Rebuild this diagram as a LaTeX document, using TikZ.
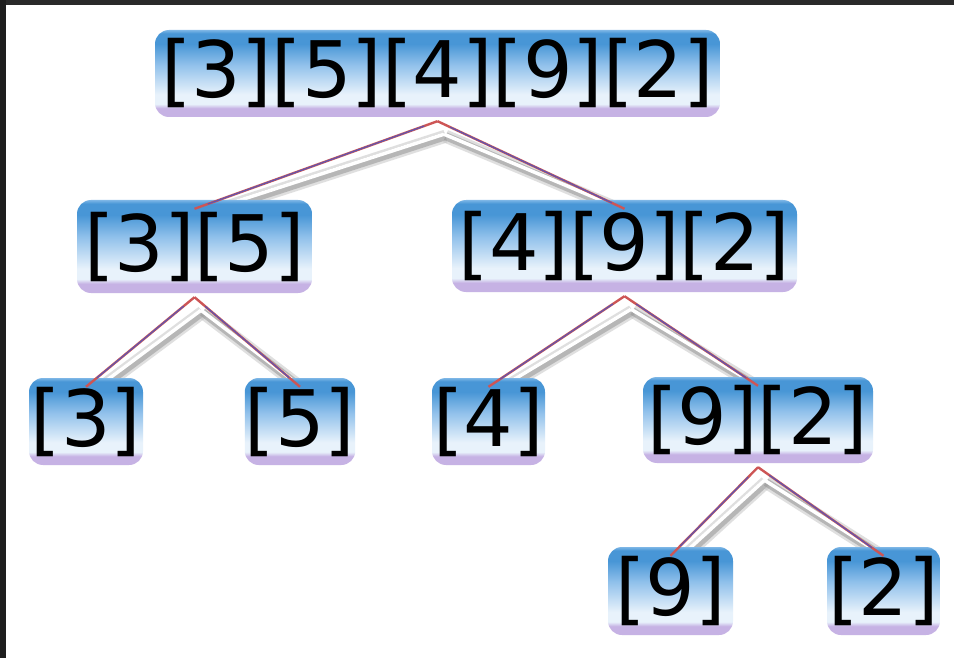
\documentclass[tikz,border=0pt]{standalone}
\usepackage{fontspec}
\setmainfont{DejaVu Sans}
\usetikzlibrary{calc}
\definecolor{framedark}{RGB}{42,42,42}
\definecolor{frameleft}{RGB}{30,30,30}
\definecolor{boxlav}{RGB}{198,178,228}
\definecolor{boxlight}{RGB}{232,242,251}
\definecolor{boxmid}{RGB}{145,193,235}
\definecolor{boxblue}{RGB}{72,150,214}
\definecolor{boxrim}{RGB}{125,182,230}
\definecolor{lnred}{RGB}{205,85,85}
\definecolor{lnblue}{RGB}{95,85,175}
\definecolor{shgray}{RGB}{185,185,185}
\definecolor{shdark}{RGB}{150,150,150}
\pgfdeclareverticalshading{boxshade}{100bp}{color(0bp)=(boxlav); color(25bp)=(boxlav); color(30bp)=(boxlav); color(32.5bp)=(boxlight); color(38bp)=(boxlight); color(55bp)=(boxmid); color(67bp)=(boxblue); color(73bp)=(boxblue); color(75bp)=(boxrim); color(100bp)=(boxrim)}
\tikzset{
  arr/.style={shading=boxshade, rounded corners=14pt, inner sep=0pt,
    minimum height=87pt, text height=59.3pt, text depth=10.3pt,
    font=\fontsize{78}{78}\selectfont, text=black},
  spot/.style={minimum height=87pt, inner sep=0pt},
  shadowouter/.style={draw=shgray, line width=13pt, opacity=0.45},
  shadowmid/.style={draw=shdark, line width=8pt, opacity=0.55},
  shadowhi/.style={draw=white, line width=3.5pt},
  linkred/.style={draw=lnred, line width=2.4pt},
  linkblue/.style={draw=lnblue, line width=1.2pt, shorten <=14pt, shorten >=14pt}
}
\newcommand\shadowlink[2]{%
  \draw[shadowouter] ($(#1.south)+(8,19)$) -- ($(#2.north)+(8,15)$);
  \draw[shadowmid] ($(#1.south)+(8,19)$) -- ($(#2.north)+(8,15)$);
  \draw[shadowhi] ($(#1.south)+(6.5,17)$) -- ($(#2.north)+(6.5,13)$);}
\newcommand\colorlink[2]{%
  \draw[linkred] ($(#1.south)+(0,4)$) -- ($(#2.north)+(0,9)$);
  \draw[linkblue] ($(#1.south)+(0,4)$) -- ($(#2.north)+(0,9)$);}
\begin{document}
\begin{tikzpicture}[x=1pt,y=-1pt]
\useasboundingbox (0,0) rectangle (954,658);
\fill[white] (0,0) rectangle (954,658);
\fill[framedark] (0,0) rectangle (954,5);
\fill[frameleft] (0,0) rectangle (6,658);
% node positions (used for shadows drawn under the boxes)
\path
  (437.5,73.5) node[spot, minimum width=565pt] (root) {}
  (194.5,246.5) node[spot, minimum width=235pt, minimum height=93pt] (n35) {}
  (624.5,246) node[spot, minimum width=345pt, minimum height=92pt] (n492) {}
  (86,421.5) node[spot, minimum width=114pt] (n3) {}
  (300,421.5) node[spot, minimum width=110pt] (n5) {}
  (488.5,421.5) node[spot, minimum width=113pt] (n4) {}
  (758,420) node[spot, minimum width=230pt, minimum height=86pt] (n92) {}
  (670.5,591) node[spot, minimum width=125pt, minimum height=88pt] (n9) {}
  (883.5,591) node[spot, minimum width=113pt, minimum height=88pt] (n2) {};
\shadowlink{root}{n35}
\shadowlink{root}{n492}
\shadowlink{n35}{n3}
\shadowlink{n35}{n5}
\shadowlink{n492}{n4}
\shadowlink{n492}{n92}
\shadowlink{n92}{n9}
\shadowlink{n92}{n2}
% boxes
\node[arr, minimum width=565pt] (rootbox) at (root) {[3][5][4][9][2]};
\node[arr, minimum width=235pt, minimum height=93pt] (n35box) at (n35) {[3][5]};
\node[arr, minimum width=345pt, minimum height=92pt] (n492box) at (n492) {[4][9][2]};
\node[arr, minimum width=114pt] (n3box) at (n3) {[3]};
\node[arr, minimum width=110pt] (n5box) at (n5) {[5]};
\node[arr, minimum width=113pt] (n4box) at (n4) {[4]};
\node[arr, minimum width=230pt, minimum height=86pt] (n92box) at (n92) {[9][2]};
\node[arr, minimum width=125pt, minimum height=88pt] (n9box) at (n9) {[9]};
\node[arr, minimum width=113pt, minimum height=88pt] (n2box) at (n2) {[2]};
% coloured connectors
\colorlink{root}{n35}
\colorlink{root}{n492}
\colorlink{n35}{n3}
\colorlink{n35}{n5}
\colorlink{n492}{n4}
\colorlink{n492}{n92}
\colorlink{n92}{n9}
\colorlink{n92}{n2}
\end{tikzpicture}
\end{document}
